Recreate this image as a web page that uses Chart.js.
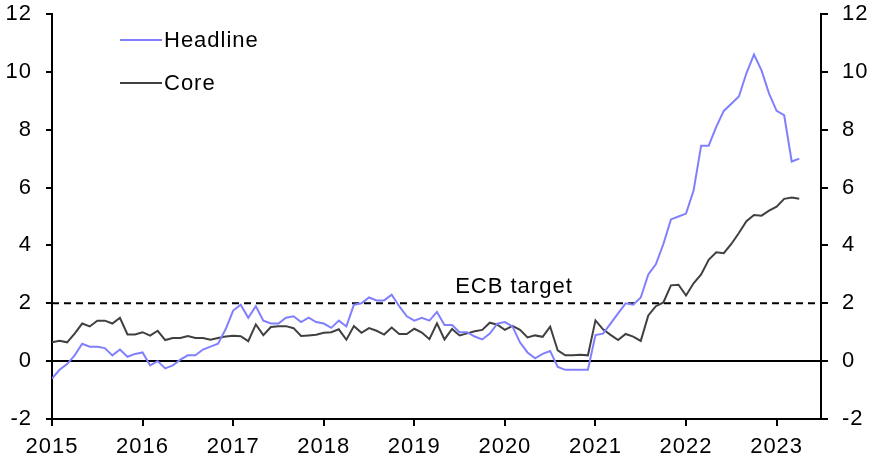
<!DOCTYPE html>
<html>
<head>
<meta charset="utf-8">
<script src="https://cdn.jsdelivr.net/npm/chart.js@4.4.0/dist/chart.umd.min.js"></script>
<style>
  html, body { margin: 0; padding: 0; background: #fff; }
  canvas { display: block; }
</style>
</head>
<body>
<canvas id="chart" width="873" height="462"></canvas>
<script>
// monthly data, Jan 2015 .. Apr 2023
const startYear = 2015;
const yearTicks = [2015, 2016, 2017, 2018, 2019, 2020, 2021, 2022, 2023];
const valueTicks = [-2, 0, 2, 4, 6, 8, 10, 12];

const headline = [
  -0.6, -0.3, -0.1, 0.2, 0.6, 0.5, 0.5, 0.45, 0.2, 0.4, 0.15, 0.25,
  0.3, -0.15, 0.0, -0.25, -0.15, 0.05, 0.2, 0.2, 0.4, 0.5, 0.6, 1.1,
  1.75, 1.95, 1.5, 1.9, 1.4, 1.3, 1.3, 1.5, 1.55, 1.35, 1.5, 1.35,
  1.3, 1.15, 1.4, 1.2, 1.95, 2.0, 2.2, 2.1, 2.1, 2.3, 1.9, 1.55,
  1.4, 1.5, 1.4, 1.7, 1.25, 1.25, 1.0, 1.0, 0.85, 0.75, 0.95, 1.3,
  1.35, 1.2, 0.65, 0.3, 0.1, 0.25, 0.35, -0.2, -0.3, -0.3, -0.3, -0.3,
  0.9, 0.95, 1.3, 1.65, 2.0, 1.95, 2.2, 3.0, 3.35, 4.05, 4.9, 5.0,
  5.1, 5.9, 7.45, 7.45, 8.1, 8.65, 8.9, 9.15, 9.95, 10.6, 10.05, 9.25,
  8.65, 8.5, 6.9, 7.0
];

const core = [
  0.65, 0.7, 0.65, 0.95, 1.3, 1.2, 1.4, 1.4, 1.3, 1.5, 0.92, 0.92,
  1.0, 0.88, 1.05, 0.73, 0.8, 0.8, 0.87, 0.8, 0.8, 0.74, 0.8, 0.85,
  0.88, 0.86, 0.69, 1.27, 0.9, 1.18, 1.21, 1.21, 1.14, 0.87, 0.89, 0.91,
  0.98, 1.0, 1.1, 0.74, 1.21, 0.98, 1.14, 1.05, 0.92, 1.16, 0.94, 0.94,
  1.12, 0.99, 0.76, 1.31, 0.75, 1.11, 0.89, 0.96, 1.03, 1.08, 1.33, 1.26,
  1.08, 1.22, 1.08, 0.82, 0.89, 0.84, 1.19, 0.37, 0.2, 0.2, 0.22, 0.2,
  1.41, 1.1, 0.91, 0.73, 0.94, 0.85, 0.7, 1.58, 1.9, 2.03, 2.62, 2.64,
  2.27, 2.69, 3.0, 3.5, 3.76, 3.73, 4.05, 4.43, 4.84, 5.05, 5.03, 5.2,
  5.34, 5.61, 5.66, 5.61
];

const targetValue = 2;
const targetLabel = "ECB target";

const FONT = "'Liberation Sans', Arial, sans-serif";

function toPoints(arr) {
  return arr.map((v, i) => ({ x: startYear + i / 12, y: v }));
}

// dashed target line, its label and the in-plot legend
const overlay = {
  id: 'overlay',
  beforeDraw(chart) {
    chart.ctx.letterSpacing = '1px';
  },
  beforeDatasetsDraw(chart) {
    const { ctx, chartArea, scales } = chart;
    const y = scales.y.getPixelForValue(targetValue);
    ctx.save();
    ctx.strokeStyle = '#000';
    ctx.lineWidth = 2;
    ctx.setLineDash([7, 5]);
    ctx.beginPath();
    ctx.moveTo(chartArea.left, y);
    ctx.lineTo(chartArea.right, y);
    ctx.stroke();
    ctx.setLineDash([]);
    ctx.fillStyle = '#000';
    ctx.font = '22px ' + FONT;
    ctx.textAlign = 'center';
    ctx.textBaseline = 'alphabetic';
    ctx.fillText(targetLabel, scales.x.getPixelForValue(2020.1), y - 10);
    ctx.restore();
  },
  afterDraw(chart) {
    const { ctx } = chart;
    ctx.save();
    ctx.font = '22px ' + FONT;
    ctx.textBaseline = 'middle';
    ctx.textAlign = 'left';
    chart.data.datasets.forEach((ds, i) => {
      const y = 40 + i * 43;
      ctx.strokeStyle = ds.borderColor;
      ctx.lineWidth = 2;
      ctx.beginPath();
      ctx.moveTo(120, y);
      ctx.lineTo(162, y);
      ctx.stroke();
      ctx.fillStyle = '#000';
      ctx.fillText(ds.label, 164, y + 1);
    });
    ctx.restore();
    ctx.letterSpacing = '0px';
  }
};

const tickFont = { family: FONT, size: 22 };

new Chart(document.getElementById('chart'), {
  type: 'line',
  data: {
    datasets: [
      { label: 'Headline', data: toPoints(headline), borderColor: '#8080ff', borderWidth: 2, pointRadius: 0, tension: 0 },
      { label: 'Core', data: toPoints(core), borderColor: '#404040', borderWidth: 2, pointRadius: 0, tension: 0 }
    ]
  },
  options: {
    responsive: false,
    animation: false,
    layout: { padding: { top: 14, left: 0, right: 0, bottom: 0 } },
    plugins: { legend: { display: false }, tooltip: { enabled: false } },
    scales: {
      x: {
        type: 'linear',
        min: 2015,
        max: 2023.49,
        afterBuildTicks: s => { s.ticks = yearTicks.map(v => ({ value: v })); },
        afterFit: s => { s.height = 43; s.paddingLeft = 0; s.paddingRight = 0; },
        ticks: { color: '#000', font: tickFont, padding: 8, maxRotation: 0, callback: v => String(v) },
        grid: { drawOnChartArea: false, color: '#000', lineWidth: 2, tickLength: 7 },
        border: { color: '#000', width: 2 }
      },
      y: {
        position: 'left',
        min: -2,
        max: 12,
        afterBuildTicks: s => { s.ticks = valueTicks.map(v => ({ value: v })); },
        afterFit: s => { s.width = 52; s.paddingTop = 0; s.paddingBottom = 0; },
        ticks: { color: '#000', font: tickFont, padding: 14 },
        grid: {
          color: c => (c.tick && c.tick.value === 0 ? '#000' : 'rgba(0,0,0,0)'),
          tickColor: '#000',
          lineWidth: 2,
          tickLength: 6
        },
        border: { color: '#000', width: 2 }
      },
      y2: {
        position: 'right',
        min: -2,
        max: 12,
        afterBuildTicks: s => { s.ticks = valueTicks.map(v => ({ value: v })); },
        afterFit: s => { s.width = 52; s.paddingTop = 0; s.paddingBottom = 0; },
        ticks: { color: '#000', font: tickFont, padding: 14 },
        grid: { drawOnChartArea: false, color: '#000', lineWidth: 2, tickLength: 7 },
        border: { color: '#000', width: 2 }
      }
    }
  },
  plugins: [overlay]
});
</script>
</body>
</html>
